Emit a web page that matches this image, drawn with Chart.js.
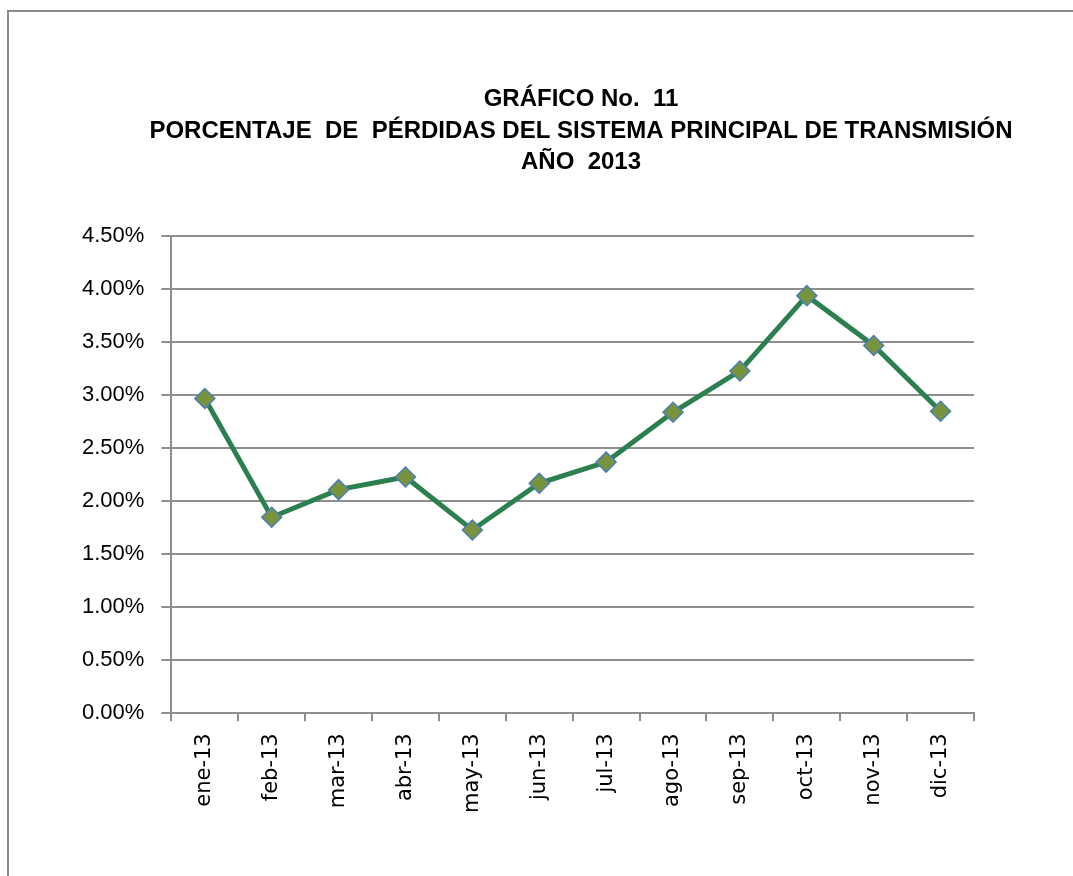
<!DOCTYPE html>
<html>
<head>
<meta charset="utf-8">
<script src="https://cdn.jsdelivr.net/npm/chart.js@4"></script>
<style>
  html, body { margin: 0; padding: 0; background: #fff; }
  #wrap { position: relative; width: 1073px; height: 876px; }
  #frame { position: absolute; left: 7px; top: 10px; width: 1080px; height: 880px;
           border-top: 2px solid #8a8a8a; border-left: 2px solid #8a8a8a; box-sizing: border-box; }
</style>
</head>
<body>
<div id="wrap">
  <div id="frame"></div>
  <canvas id="myChart" width="1073" height="876"></canvas>
</div>
<script>
// data
var months = ['ene-13', 'feb-13', 'mar-13', 'abr-13', 'may-13', 'jun-13',
              'jul-13', 'ago-13', 'sep-13', 'oct-13', 'nov-13', 'dic-13'];
var losses = [2.97, 1.85, 2.11, 2.23, 1.73, 2.17, 2.37, 2.84, 3.23, 3.94, 3.47, 2.85];
var titleLines = ['GRÁFICO No.  11',
                  'PORCENTAJE  DE  PÉRDIDAS DEL SISTEMA PRINCIPAL DE TRANSMISIÓN',
                  'AÑO  2013'];
var yMin = 0, yMax = 4.5, yStep = 0.5;

var gridColor = '#8e8e8e';

var ctx = document.getElementById('myChart').getContext('2d');
var chart = new Chart(ctx, {
    type: 'line',
    data: {
        labels: months,
        datasets: [{
            label: 'Pérdidas',
            data: losses,
            borderColor: '#2c7f4e',
            borderWidth: 5,
            pointStyle: 'rectRot',
            pointRadius: 10,
            pointBackgroundColor: '#77933c',
            pointBorderColor: '#4a7ebb',
            pointBorderWidth: 1.5,
            tension: 0
        }]
    },
    options: {
        responsive: false,
        animation: false,
        // title sits right of the plot centre, so the padding is lopsided
        layout: { padding: { left: 65, right: -24, top: 0, bottom: 51 } },
        plugins: {
            legend: { display: false },
            tooltip: { enabled: false },
            title: {
                display: true,
                text: titleLines,
                color: '#000',
                font: { family: 'Liberation Sans', size: 24, weight: 'bold', lineHeight: 1.31 },
                padding: { top: 84, bottom: 58 }
            }
        },
        scales: {
            x: {
                offset: true,
                grid: { display: true, offset: true, drawOnChartArea: false, drawTicks: true,
                        tickLength: 8, color: gridColor, lineWidth: 2 },
                border: { display: true, color: gridColor, width: 2 },
                ticks: {
                    color: '#000', padding: 12, minRotation: 90, maxRotation: 90, autoSkip: false,
                    font: { family: 'DejaVu Sans', size: 21 }
                }
            },
            y: {
                min: yMin, max: yMax,
                grid: { color: gridColor, lineWidth: 2, tickLength: 10 },
                border: { display: true, color: gridColor, width: 2 },
                ticks: {
                    stepSize: yStep, color: '#000', padding: 17,
                    font: { family: 'Liberation Sans', size: 22 },
                    callback: function (v) { return v.toFixed(2) + '%'; }
                }
            },
            // empty spacer on the right
            y2: {
                position: 'right',
                afterFit: function (s) { s.width = 123; },
                grid: { display: false },
                border: { display: false },
                ticks: { display: false }
            }
        }
    }
});
</script>
</body>
</html>
